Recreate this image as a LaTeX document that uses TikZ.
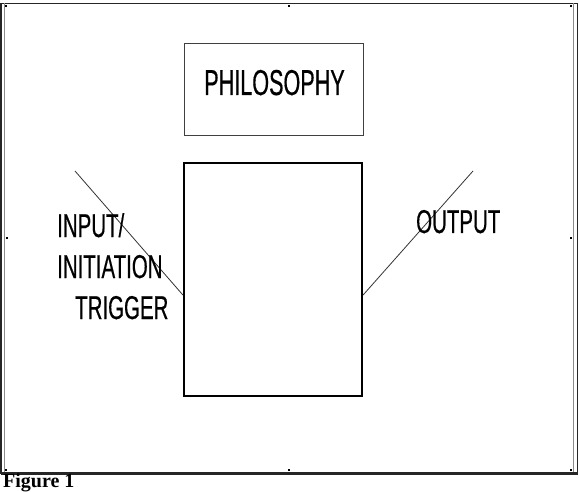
\documentclass[tikz,border=0pt]{standalone}
\usepackage{fontspec}
\setmainfont{Liberation Serif}
\newfontfamily\narrowlab[FakeStretch=0.62,FakeBold=0.4]{Liberation Sans}
\newfontfamily\narrowphil[FakeStretch=0.6,FakeBold=0.4]{Liberation Sans}
\begin{document}
\begin{tikzpicture}[x=1pt,y=-1pt,
  lab/.style={inner sep=0pt,font=\narrowlab\fontsize{33}{33}\selectfont},
  philtext/.style={inner sep=0pt,font=\narrowphil\fontsize{36}{36}\selectfont},
  thinbox/.style={draw=black!75,line width=1pt},
  thickbox/.style={draw=black,line width=2.2pt},
  wire/.style={draw=black!80,line width=0.8pt},
  tick/.style={fill=black},
  framedark/.style={draw=black!85,line width=1.6pt},
  framegray/.style={draw=black!45,line width=1pt}]
\clip (0,0) rectangle (579,492);
\fill[white] (0,0) rectangle (579,492);
% outer frame
\draw[framedark] (1,3.5) -- (577.5,3.5);
\draw[framedark] (0.8,3.5) -- (0.8,473.5);
\draw[framedark] (577.5,3.5) -- (577.5,473.5);
\draw[framedark,line width=2.2pt] (0.8,473.5) -- (577.5,473.5);
\draw[framegray] (4.5,3.5) -- (4.5,472);
\draw[framegray] (573.5,3.5) -- (573.5,472);
% ticks
\foreach \p/\q in {6/6, 289/6, 571/6, 6/470, 289/470, 571/470, 7/238, 571/238}
  \fill[tick] (\p-1.2,\q-1.2) rectangle (\p+1.2,\q+1.2);
% philosophy box
\draw[thinbox] (184,44) rectangle (363.5,135.5);
\node[philtext,anchor=base] (phil) at (274.5,95) {PHILOSOPHY};
% central box
\node[thickbox,minimum width=178pt,minimum height=233pt,inner sep=0pt] (box) at (273,279.5) {};
% connectors
\coordinate (inTop) at (75,171);
\coordinate (inEnd) at (box.west |- 0,295);
\coordinate (outTop) at (473,171);
\coordinate (outEnd) at (box.east |- 0,295);
\draw[wire] (inTop) -- (inEnd);
\draw[wire] (outEnd) -- (outTop);
% labels
\node[lab,anchor=base west] (in1) at (57,237) {INPUT/};
\node[lab,anchor=base west] (in2) at (57,278) {INITIATION};
\node[lab,anchor=base west] (in3) at (75,319) {TRIGGER};
\node[lab,anchor=base west] (out) at (416,233) {OUTPUT};
% caption
\node[inner sep=0pt,anchor=base west,font=\bfseries\fontsize{20}{20}\selectfont] (cap) at (3,487) {Figure 1};
\end{tikzpicture}
\end{document}
